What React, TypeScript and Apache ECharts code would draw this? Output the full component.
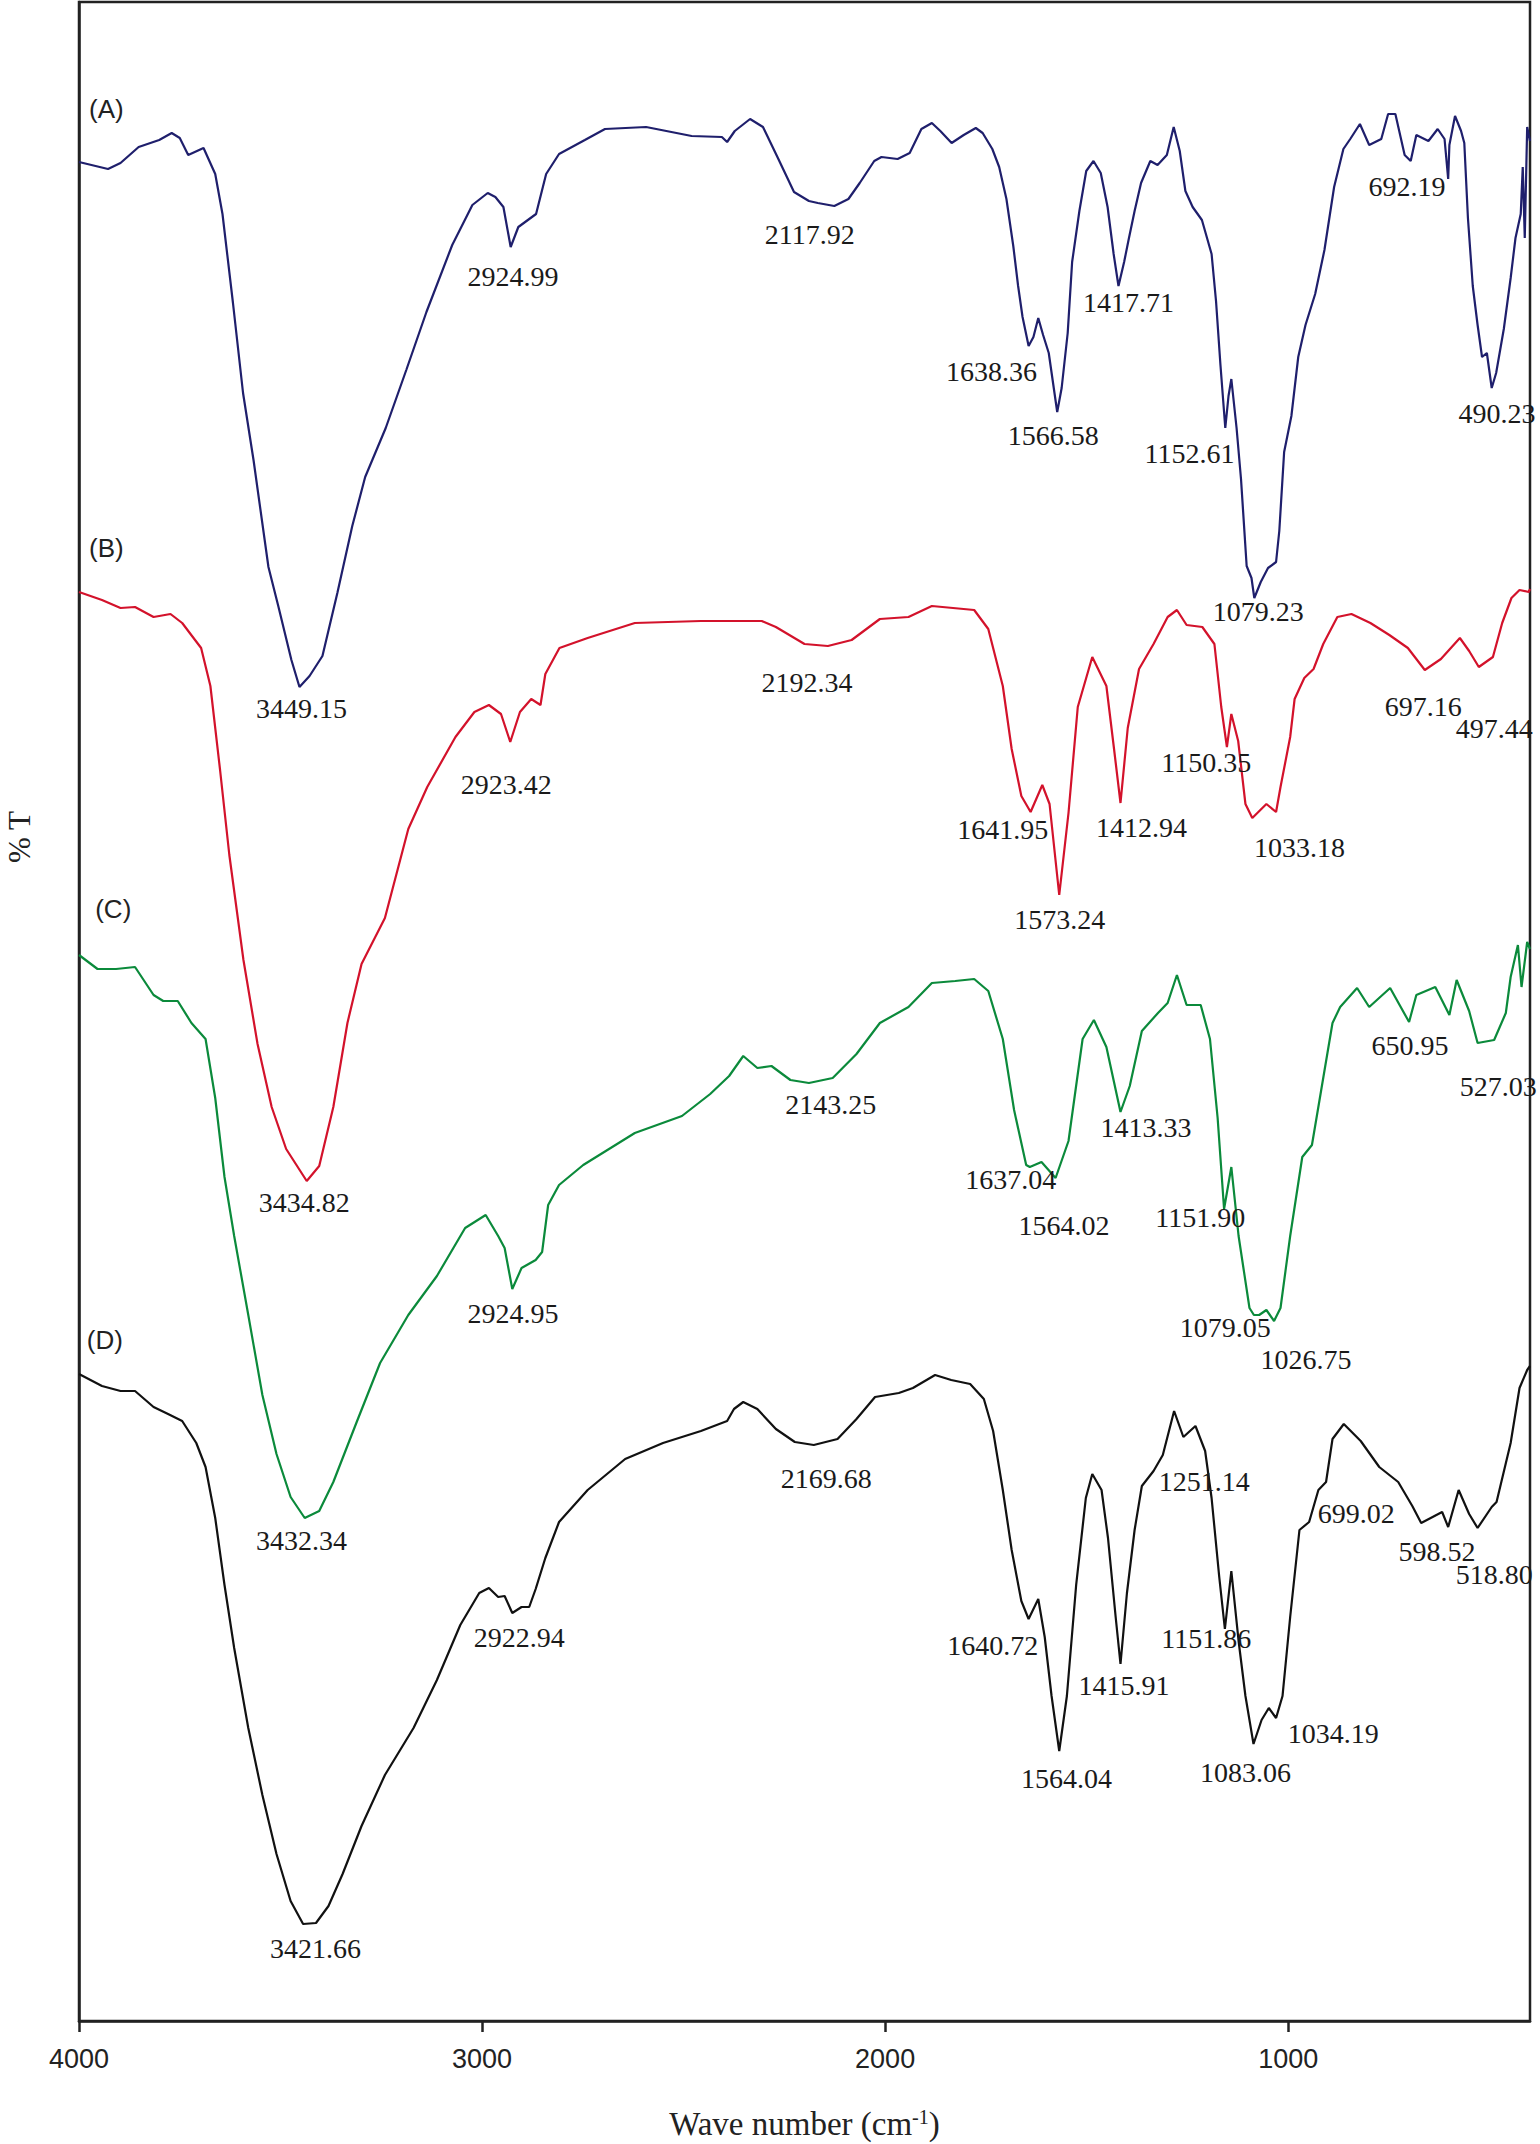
import React, { useEffect, useRef } from 'react';
import * as echarts from 'echarts';

// Wavenumber (cm-1) vs offset transmittance (arbitrary units, stacked traces)
const spectrumA: number[][] = [
  [4000,1859],[3928,1852],[3897,1858],[3852,1874],[3801,1881],[3770,1888],[3750,1883],[3729,1866],[3691,1873],[3662,1847],[3644,1807],[3618,1718],[3593,1628],[3567,1561],[3530,1454],[3505,1414],[3473,1361],[3453,1334],[3428,1345],[3396,1365],[3359,1428],[3322,1495],[3290,1544],[3239,1593],[3188,1651],[3138,1709],[3074,1776],[3024,1816],[2986,1828],[2967,1824],[2947,1814],[2929,1774],[2910,1794],[2866,1807],[2841,1847],[2809,1867],[2745,1881],[2695,1892],[2593,1894],[2480,1885],[2405,1884],[2392,1879],[2373,1890],[2335,1902],[2303,1894],[2266,1863],[2226,1829],[2189,1820],[2167,1818],[2126,1815],[2091,1822],[2063,1838],[2027,1860],[2009,1864],[1969,1862],[1939,1868],[1910,1892],[1884,1898],[1863,1890],[1835,1878],[1805,1886],[1775,1893],[1758,1888],[1734,1872],[1717,1854],[1699,1822],[1682,1775],[1670,1735],[1659,1704],[1644,1675],[1632,1684],[1620,1703],[1608,1686],[1594,1668],[1573,1609],[1562,1633],[1547,1688],[1536,1759],[1518,1810],[1501,1850],[1483,1860],[1465,1848],[1448,1814],[1433,1767],[1421,1735],[1407,1759],[1395,1783],[1381,1810],[1365,1838],[1342,1860],[1324,1856],[1301,1866],[1284,1894],[1269,1870],[1255,1830],[1237,1814],[1214,1801],[1190,1767],[1179,1720],[1168,1656],[1156,1593],[1148,1625],[1141,1642],[1128,1593],[1117,1542],[1103,1455],[1091,1443],[1084,1423],[1068,1439],[1050,1453],[1030,1459],[1022,1490],[1010,1569],[992,1605],[975,1664],[957,1696],[933,1727],[910,1771],[886,1834],[863,1872],[846,1882],[822,1897],[799,1876],[769,1882],[752,1907],[734,1907],[711,1866],[696,1860],[682,1886],[652,1880],[629,1892],[612,1882],[603,1842],[600,1876],[586,1905],[571,1890],[563,1878],[554,1803],[542,1735],[530,1696],[519,1664],[507,1668],[495,1633],[484,1648],[465,1692],[448,1743],[436,1783],[423,1807],[418,1854],[413,1783],[407,1894],[400,1880]
];

const spectrumB: number[][] = [
  [4000,1429],[3943,1421],[3897,1413],[3861,1414],[3815,1404],[3773,1407],[3744,1398],[3697,1373],[3674,1335],[3650,1251],[3627,1166],[3592,1061],[3557,977],[3522,914],[3486,872],[3435,840],[3404,855],[3369,914],[3334,998],[3299,1057],[3241,1103],[3183,1192],[3136,1234],[3066,1284],[3019,1309],[2983,1316],[2953,1307],[2930,1279],[2906,1309],[2878,1322],[2855,1316],[2843,1347],[2808,1373],[2738,1383],[2621,1398],[2457,1400],[2306,1400],[2271,1394],[2200,1377],[2142,1375],[2083,1381],[2013,1402],[1942,1404],[1884,1415],[1779,1411],[1744,1392],[1708,1335],[1686,1272],[1662,1225],[1639,1209],[1610,1236],[1592,1217],[1568,1126],[1545,1208],[1522,1314],[1486,1364],[1451,1335],[1432,1272],[1416,1218],[1398,1293],[1370,1352],[1334,1377],[1299,1404],[1276,1411],[1252,1396],[1213,1394],[1183,1377],[1166,1314],[1152,1274],[1141,1307],[1124,1280],[1106,1217],[1089,1203],[1054,1217],[1030,1209],[1019,1234],[995,1284],[984,1322],[960,1343],[937,1352],[913,1377],[878,1404],[843,1407],[796,1398],[749,1386],[703,1373],[661,1351],[621,1362],[574,1383],[551,1370],[527,1354],[492,1364],[469,1398],[446,1423],[426,1431],[403,1429],[400,1432]
];

const spectrumC: number[][] = [
  [4000,1066],[3954,1052],[3908,1052],[3861,1054],[3815,1026],[3791,1020],[3755,1020],[3721,998],[3686,982],[3662,923],[3639,844],[3615,785],[3580,706],[3545,626],[3510,567],[3475,524],[3440,503],[3404,510],[3369,539],[3311,599],[3253,658],[3183,706],[3112,745],[3042,793],[2991,806],[2960,785],[2944,773],[2925,732],[2902,753],[2867,761],[2851,769],[2836,816],[2809,836],[2749,856],[2621,888],[2504,905],[2434,927],[2387,945],[2352,965],[2317,953],[2282,955],[2235,941],[2189,938],[2130,943],[2071,967],[2013,998],[1942,1014],[1884,1038],[1826,1040],[1779,1042],[1744,1030],[1708,982],[1680,911],[1650,856],[1641,854],[1612,859],[1577,843],[1545,880],[1510,982],[1482,1001],[1451,974],[1416,909],[1393,935],[1363,990],[1323,1008],[1299,1018],[1276,1046],[1252,1016],[1217,1016],[1194,982],[1175,903],[1159,812],[1141,854],[1123,785],[1096,713],[1085,706],[1072,706],[1054,711],[1035,700],[1019,713],[995,785],[965,864],[941,876],[918,931],[890,998],[871,1014],[829,1033],[799,1014],[747,1033],[700,999],[682,1026],[635,1034],[600,1006],[582,1041],[551,1010],[530,978],[489,981],[460,1008],[448,1044],[430,1076],[421,1034],[407,1079],[400,1072]
];

const spectrumD: number[][] = [
  [4000,647],[3943,635],[3897,630],[3861,630],[3815,614],[3779,607],[3744,600],[3709,578],[3686,554],[3662,503],[3639,436],[3615,373],[3580,293],[3545,226],[3510,167],[3475,120],[3444,97],[3412,98],[3381,115],[3346,147],[3299,195],[3241,246],[3170,293],[3112,341],[3054,396],[3007,428],[2983,433],[2960,424],[2944,425],[2925,408],[2902,414],[2883,414],[2867,432],[2843,463],[2809,499],[2738,531],[2645,562],[2551,578],[2457,590],[2392,600],[2375,612],[2352,619],[2317,612],[2271,592],[2224,579],[2177,576],[2118,582],[2071,602],[2025,624],[1966,628],[1931,633],[1876,646],[1836,641],[1789,637],[1755,622],[1732,590],[1708,531],[1686,471],[1662,420],[1644,402],[1620,422],[1604,384],[1587,325],[1568,270],[1549,325],[1526,436],[1502,523],[1486,547],[1463,531],[1447,483],[1428,404],[1416,357],[1400,428],[1381,491],[1363,535],[1334,550],[1311,566],[1283,610],[1260,584],[1230,595],[1206,570],[1190,523],[1171,444],[1157,392],[1141,450],[1123,380],[1106,325],[1086,277],[1066,301],[1048,313],[1030,303],[1014,325],[995,404],[972,491],[948,499],[925,531],[906,539],[890,582],[862,597],[820,580],[774,554],[727,539],[692,515],[670,498],[618,509],[603,494],[577,531],[551,507],[530,493],[495,514],[483,519],[448,578],[426,633],[407,651],[400,655]
];

// Peak annotations: [label, wavenumber at text centre, y at text centre]
const peaksA: [string, number, number][] = [
  ['3449.15', 3448, 1313], ['2924.99', 2923, 1745], ['2117.92', 2187, 1787], ['1638.36', 1736, 1650],
  ['1566.58', 1583, 1586], ['1417.71', 1396, 1719], ['1152.61', 1245, 1568], ['1079.23', 1074, 1410],
  ['692.19', 705, 1835], ['490.23', 482, 1608]
];
const peaksB: [string, number, number][] = [
  ['3434.82', 3441, 819], ['2923.42', 2940, 1237], ['2192.34', 2194, 1339], ['1641.95', 1708, 1192],
  ['1573.24', 1567, 1102], ['1412.94', 1364, 1194], ['1150.35', 1203, 1259], ['1033.18', 972, 1174],
  ['697.16', 665, 1315], ['497.44', 489, 1293]
];
const peaksC: [string, number, number][] = [
  ['3432.34', 3448, 481], ['2924.95', 2923, 708], ['2143.25', 2135, 917], ['1637.04', 1688, 842],
  ['1564.02', 1556, 796], ['1413.33', 1353, 894], ['1151.90', 1218, 804], ['1079.05', 1156, 694],
  ['1026.75', 956, 662], ['650.95', 698, 976], ['527.03', 479, 935]
];
const peaksD: [string, number, number][] = [
  ['3421.66', 3413, 73], ['2922.94', 2908, 384], ['2169.68', 2146, 543], ['1640.72', 1733, 376],
  ['1564.04', 1550, 243], ['1415.91', 1407, 336], ['1251.14', 1208, 540], ['1151.86', 1203, 383],
  ['1083.06', 1106, 249], ['1034.19', 888, 288], ['699.02', 831, 508], ['598.52', 631, 470],
  ['518.80', 489, 447]
];

const sampleNames = ['(A)', '(B)', '(C)', '(D)'];
const sampleNamePos: number[][] = [[3932, 1912], [3932, 1473], [3915, 1112], [3936, 681]];
const seriesColors = ['#1f1f6c', '#d3122b', '#0b8a3b', '#111111'];
const spectra = [spectrumA, spectrumB, spectrumC, spectrumD];
const peaks = [peaksA, peaksB, peaksC, peaksD];
const xTicks = [4000, 3000, 2000, 1000];

const SERIF = '"Liberation Serif", "Times New Roman", serif';
const SANS = '"Liberation Sans", Arial, sans-serif';

export default function App() {
  const ref = useRef<HTMLDivElement>(null);
  useEffect(() => {
    if (!ref.current) return;
    const chart = echarts.init(ref.current, null, { renderer: 'svg' });
    const series = spectra.map((data, i) => ({
      type: 'line',
      name: sampleNames[i],
      data,
      showSymbol: false,
      symbol: 'none',
      lineStyle: { color: seriesColors[i], width: 2.2 },
      itemStyle: { color: seriesColors[i] },
      z: 2,
      markPoint: {
        symbol: 'circle',
        symbolSize: 0,
        silent: true,
        z: 5,
        label: {
          show: true,
          position: 'inside',
          color: '#1a1a1a',
          fontFamily: SERIF,
          fontSize: 28,
          formatter: (p: any) => p.name,
        },
        data: [
          ...peaks[i].map(([t, w, v]) => ({ name: t, coord: [w, v] })),
          {
            name: sampleNames[i],
            coord: sampleNamePos[i],
            label: { fontFamily: SANS, fontSize: 26, color: '#222' },
          },
        ],
      },
    }));
    chart.setOption({
      animation: false,
      backgroundColor: '#ffffff',
      grid: {
        left: 79, right: 10, top: 2, bottom: 123,
        show: true, borderColor: '#222', borderWidth: 2.5,
        containLabel: false, outerBoundsMode: 'none',
      },
      xAxis: {
        type: 'value',
        min: 400,
        max: 4000,
        inverse: true,
        axisLine: { show: true, onZero: false, lineStyle: { color: '#222', width: 2.5 } },
        axisTick: { show: true, customValues: xTicks, length: 11, inside: false, lineStyle: { color: '#222', width: 2.5 } },
        axisLabel: {
          customValues: xTicks,
          formatter: (v: number) => String(v),
          fontFamily: SANS, fontSize: 27, color: '#222', margin: 24,
        },
        splitLine: { show: false },
        name: 'Wave number (cm{sup|-1})',
        nameLocation: 'middle',
        nameGap: 86,
        nameTextStyle: {
          fontFamily: SERIF,
          fontSize: 33,
          color: '#222',
          rich: { sup: { fontFamily: SERIF, fontSize: 20, color: '#222', verticalAlign: 'top' } },
        },
      },
      yAxis: {
        type: 'value',
        min: 0,
        max: 2019,
        axisLine: { show: true, lineStyle: { color: '#222', width: 2.5 } },
        axisTick: { show: false },
        axisLabel: { show: false },
        splitLine: { show: false },
        name: '% T',
        nameLocation: 'middle',
        nameRotate: 90,
        nameGap: 44,
        nameTextStyle: { fontFamily: SERIF, fontSize: 31, color: '#222', padding: [0, 0, 0, 349] },
      },
      series,
    });
    return () => chart.dispose();
  }, []);
  return <div ref={ref} style={{ position: 'absolute', left: 0, top: 0, width: 1540, height: 2144, background: '#fff' }} />;
}
